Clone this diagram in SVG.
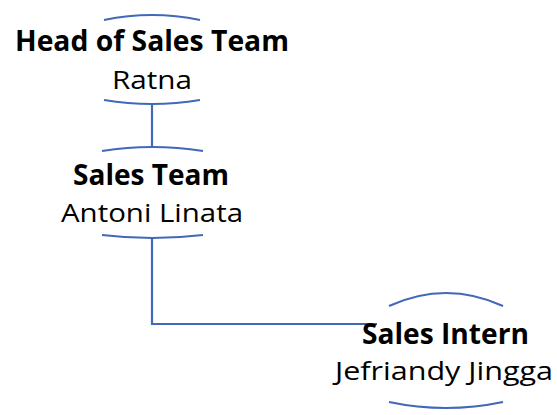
<svg xmlns="http://www.w3.org/2000/svg" width="557" height="415" viewBox="0 0 557 415">
<style>
.arc{fill:none;stroke:#4169B8;stroke-width:2.2}
.con{fill:none;stroke:#4169B8;stroke-width:2.2}
.t{font-family:"Open Sans","Noto Sans",sans-serif;font-weight:bold;fill:#000;text-anchor:middle}
.n{font-family:"Open Sans","Noto Sans",sans-serif;fill:#000;text-anchor:middle}
</style>
<rect width="557" height="415" fill="#fff"/>
<g id="connectors">
<path class="con" d="M152,104 V147"/>
<path class="con" d="M152,238 V324 H377"/>
</g>
<g id="node-head">
<path class="arc" d="M104,20 Q152,10 200,20"/>
<path class="arc" d="M104,100 Q152,108 200,100"/>
<text class="t" x="152" y="51" font-size="29" textLength="274" lengthAdjust="spacingAndGlyphs">Head of Sales Team</text>
<text class="n" x="152" y="89" font-size="26" textLength="80" lengthAdjust="spacingAndGlyphs">Ratna</text>
</g>
<g id="node-sales">
<path class="arc" d="M102,151 Q152,143 203,151"/>
<path class="arc" d="M102,235 Q152,241 203,235"/>
<text class="t" x="151" y="185" font-size="29" textLength="156" lengthAdjust="spacingAndGlyphs">Sales Team</text>
<text class="n" x="152" y="222" font-size="26" textLength="182" lengthAdjust="spacingAndGlyphs">Antoni Linata</text>
</g>
<g id="node-intern">
<path class="arc" d="M389,306 Q446,280 503,306"/>
<path class="arc" d="M389,402 Q446,414 503,402"/>
<text class="t" x="445.5" y="344" font-size="29" textLength="167" lengthAdjust="spacingAndGlyphs">Sales Intern</text>
<text class="n" x="444" y="380" font-size="26" textLength="218" lengthAdjust="spacingAndGlyphs">Jefriandy Jingga</text>
</g>
</svg>
